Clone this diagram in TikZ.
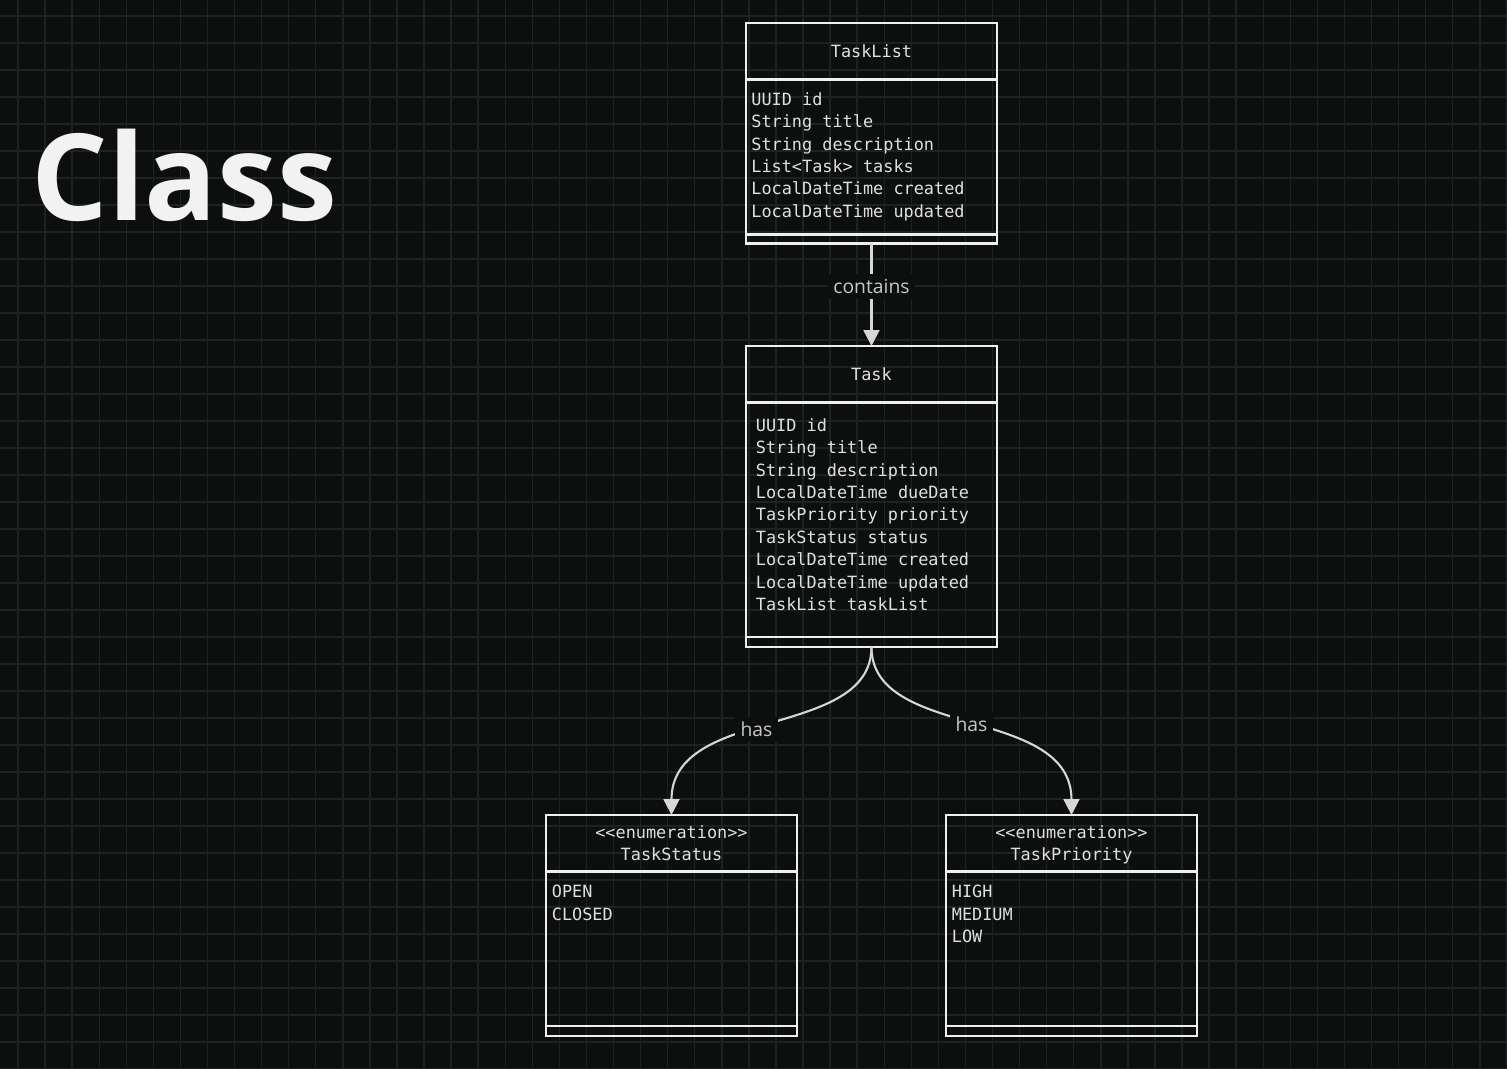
\documentclass[tikz,border=0pt]{standalone}
\usepackage{fontspec}
\setmainfont{Open Sans}
\setmonofont{DejaVu Sans Mono}
\usetikzlibrary{positioning,arrows.meta}

\definecolor{bgcol}{HTML}{0D0F0F}
\definecolor{gridcol}{HTML}{1F2222}
\definecolor{boxcol}{HTML}{EFEFEF}
\definecolor{txtcol}{HTML}{E0E0E0}
\definecolor{linkcol}{HTML}{D6D6D6}
\definecolor{lblcol}{HTML}{C8C8C8}
\definecolor{titlecol}{HTML}{F2F2F2}

\tikzset{
  umlhead/.style={draw=boxcol, line width=1.4pt, minimum width=5.02cm, minimum height=1.13cm,
    outer sep=0pt, inner sep=0pt, align=center, text=txtcol,
    font=\ttfamily\fontsize{9.6}{12.9}\selectfont},
  umlbody/.style={draw=boxcol, line width=1.4pt, minimum width=5.02cm, outer sep=0pt, inner sep=0pt},
  umlfoot/.style={umlbody, minimum height=0.2cm},
  umlattr/.style={anchor=north west, inner sep=0pt, align=left, text=txtcol,
    font=\ttfamily\fontsize{9.6}{12.76}\selectfont},
  link/.style={draw=linkcol, line width=1.2pt, -{Triangle[width=9pt,length=9pt]}},
  linklabel/.style={fill=bgcol, inner sep=3pt, text=lblcol, font=\fontsize{11}{13}\selectfont},
  gridline/.style={draw=gridcol, line width=0.8pt}
}

\begin{document}
\begin{tikzpicture}[x=0.02cm, y=-0.02cm]
    \useasboundingbox (0,0) rectangle (1507,1068);
    \fill[bgcol] (0,0) rectangle (1507,1068);

    % background grid
    \foreach \k in {0,...,55}
        \draw[gridline] ({18+27.07*\k},0) -- ({18+27.07*\k},1068);
    \foreach \k in {0,...,39}
        \draw[gridline] (0,{16+27*\k}) -- (1507,{16+27*\k});

    \node[anchor=base west, inner sep=0pt, text=titlecol, font=\bfseries\fontsize{68.5}{82}\selectfont] (title) at (31,220) {Class};

    % TaskList
    \node[umlhead, anchor=north west] (tasklist) at (746,23) {TaskList};
    \node[umlbody, minimum height=3.1cm, below=0pt of tasklist] (tasklist-body) {};
    \node[umlfoot, minimum height=0.18cm, below=0pt of tasklist-body] (tasklist-foot) {};
    \node[umlattr] (tasklist-attrs) at (751,92) {UUID id\\String title\\String description\\List<Task> tasks\\LocalDateTime created\\LocalDateTime updated};

    % Task
    \node[umlhead, anchor=north west] (task) at (746,346) {Task};
    \node[umlbody, minimum height=4.69cm, below=0pt of task] (task-body) {};
    \node[umlfoot, below=0pt of task-body] (task-foot) {};
    \node[umlattr] (task-attrs) at (755.5,418) {UUID id\\String title\\String description\\LocalDateTime dueDate\\TaskPriority priority\\TaskStatus status\\LocalDateTime created\\LocalDateTime updated\\TaskList taskList};

    % enumerations
    \node[umlhead, anchor=north west] (taskstatus) at (546,815) {<<enumeration>>\\TaskStatus};
    \node[umlbody, minimum height=3.09cm, below=0pt of taskstatus] (taskstatus-body) {};
    \node[umlfoot, below=0pt of taskstatus-body] (taskstatus-foot) {};
    \node[umlattr] (taskstatus-vals) at (551.5,885) {OPEN\\CLOSED};

    \node[umlhead, anchor=north west, text depth=0pt] (taskpriority) at (946,815) {<<enumeration>>\\TaskPriority};
    \node[umlbody, minimum height=3.09cm, below=0pt of taskpriority] (taskpriority-body) {};
    \node[umlfoot, below=0pt of taskpriority-body] (taskpriority-foot) {};
    \node[umlattr] (taskpriority-vals) at (951.5,885) {HIGH\\MEDIUM\\LOW};

    % associations
    \draw[link] (tasklist-foot.south) -- node[linklabel, pos=0.42] (contains-lbl) {contains} (task.north);
    \draw[link] (task-foot.south) .. controls +(0,93) and +(0,-110) .. node[linklabel, pos=0.55] (has-status) {has} (taskstatus.north);
    \draw[link] (task-foot.south) .. controls +(0,93) and +(0,-110) .. node[linklabel, pos=0.5] (has-priority) {has} (taskpriority.north);
\end{tikzpicture}
\end{document}
